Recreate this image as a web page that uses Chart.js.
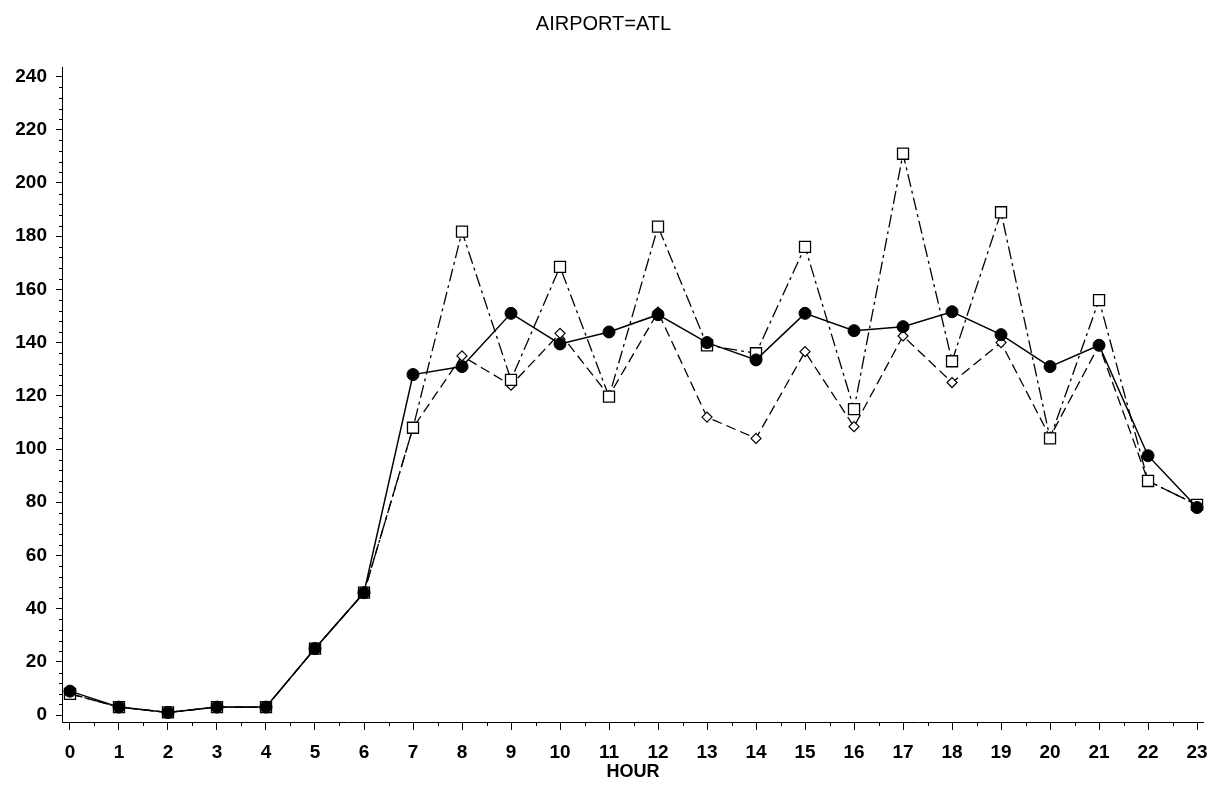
<!DOCTYPE html>
<html><head><meta charset="utf-8">
<script src="https://cdn.jsdelivr.net/npm/chart.js@4/dist/chart.umd.min.js"></script>
<style>html,body{margin:0;padding:0;background:#fff}canvas{display:block}</style>
</head><body>
<canvas id="c" width="1213" height="795"></canvas>
<script>
const hours = [0,1,2,3,4,5,6,7,8,9,10,11,12,13,14,15,16,17,18,19,20,21,22,23];
const xTickLabels = hours.map(String);
const yTickValues = [0,20,40,60,80,100,120,140,160,180,200,220,240];
const yTickLabels = ['0','20','40','60','80','100','120','140','160','180','200','220','240'];
// series
const seriesCircle  = [9,3,1,3,3,25,46,128,131,151,139.5,144,150.5,140,133.5,151,144.5,146,151.6,143,131,139,97.5,78];
const seriesSquare  = [8,3,1,3,3,25,46,108,181.7,126,168.5,119.7,183.6,139,136,176,115,211,133,189,104,156,88,79];
const seriesDiamond = [8,3,1,3,3,25,46,108,135,124,143.5,120,151.5,112,104,136.6,108.4,142.5,125,140,104.5,139,88,79];

const FONT = 'Liberation Sans, Arial, Helvetica, sans-serif';
const toXY = arr => arr.map((v,i)=>({x:hours[i], y:v}));

const minorTicks = {
  id:'minorTicks',
  afterDraw(chart){
    const {ctx, scales:{x,y}} = chart;
    ctx.save(); ctx.strokeStyle='#000'; ctx.lineWidth=1;
    ctx.beginPath();
    for (let v=0; v<=240; v+=4){
      if (v%20===0) continue;
      const py=Math.round(y.getPixelForValue(v))+0.5;
      ctx.moveTo(y.right-3, py); ctx.lineTo(y.right, py);
    }
    for (let i=0;i<hours.length-1;i++){
      const h=(hours[i]+hours[i+1])/2;
      const px=Math.round(x.getPixelForValue(h))+0.5;
      ctx.moveTo(px, x.top); ctx.lineTo(px, x.top+4);
    }
    ctx.stroke(); ctx.restore();
  }
};

new Chart(document.getElementById('c'), {
  type:'line',
  data:{
    datasets:[
      {data:toXY(seriesCircle), borderColor:'#000', borderWidth:1.5, pointStyle:'circle', pointRadius:6, pointBackgroundColor:'#000', pointBorderColor:'#000', pointBorderWidth:1, tension:0},
      {data:toXY(seriesSquare), borderColor:'#000', borderWidth:1.3, borderDash:[13,4,3,4], pointStyle:'rect', pointRadius:7.8, pointBackgroundColor:'#fff', pointBorderColor:'#000', pointBorderWidth:1.3, tension:0},
      {data:toXY(seriesDiamond), borderColor:'#000', borderWidth:1.3, borderDash:[10,5], pointStyle:'rectRot', pointRadius:5, pointBackgroundColor:'#fff', pointBorderColor:'#000', pointBorderWidth:1.2, tension:0}
    ]
  },
  options:{
    responsive:false, animation:false, devicePixelRatio:1,
    layout:{padding:{left:0,right:6,top:0,bottom:0}},
    plugins:{
      legend:{display:false}, tooltip:{enabled:false},
      title:{display:true, text:'AIRPORT=ATL', color:'#000', font:{family:FONT, size:20, weight:'normal'}, padding:{top:12, bottom:31}}
    },
    scales:{
      x:{type:'linear', min:-0.163, max:23.14,
        afterBuildTicks:s=>{s.ticks=hours.map(h=>({value:h}));},
        afterFit:s=>{s.height=73; s.paddingLeft=0; s.paddingRight=0;},
        ticks:{callback:v=>{const i=hours.indexOf(v);return i<0?'':xTickLabels[i];}, color:'#000', font:{family:FONT,size:19,weight:'bold'}, padding:11, maxRotation:0, autoSkip:false},
        grid:{drawOnChartArea:false, tickLength:8, tickColor:'#000', tickWidth:1},
        border:{display:true, color:'#000', width:1},
        title:{display:true, text:'HOUR', color:'#000', font:{family:FONT,size:18,weight:'bold'}, padding:{top:0,bottom:12}}
      },
      y:{type:'linear', min:-2.6, max:243.6,
        afterBuildTicks:s=>{s.ticks=yTickValues.map(v=>({value:v}));},
        afterFit:s=>{s.width=62;},
        ticks:{callback:v=>{const i=yTickValues.indexOf(v);return i<0?'':yTickLabels[i];}, color:'#000', font:{family:FONT,size:19,weight:'bold'}, padding:9, autoSkip:false},
        grid:{drawOnChartArea:false, tickLength:6, tickColor:'#000', tickWidth:1},
        border:{display:true, color:'#000', width:1}
      }
    }
  },
  plugins:[minorTicks]
});
</script>
</body></html>
